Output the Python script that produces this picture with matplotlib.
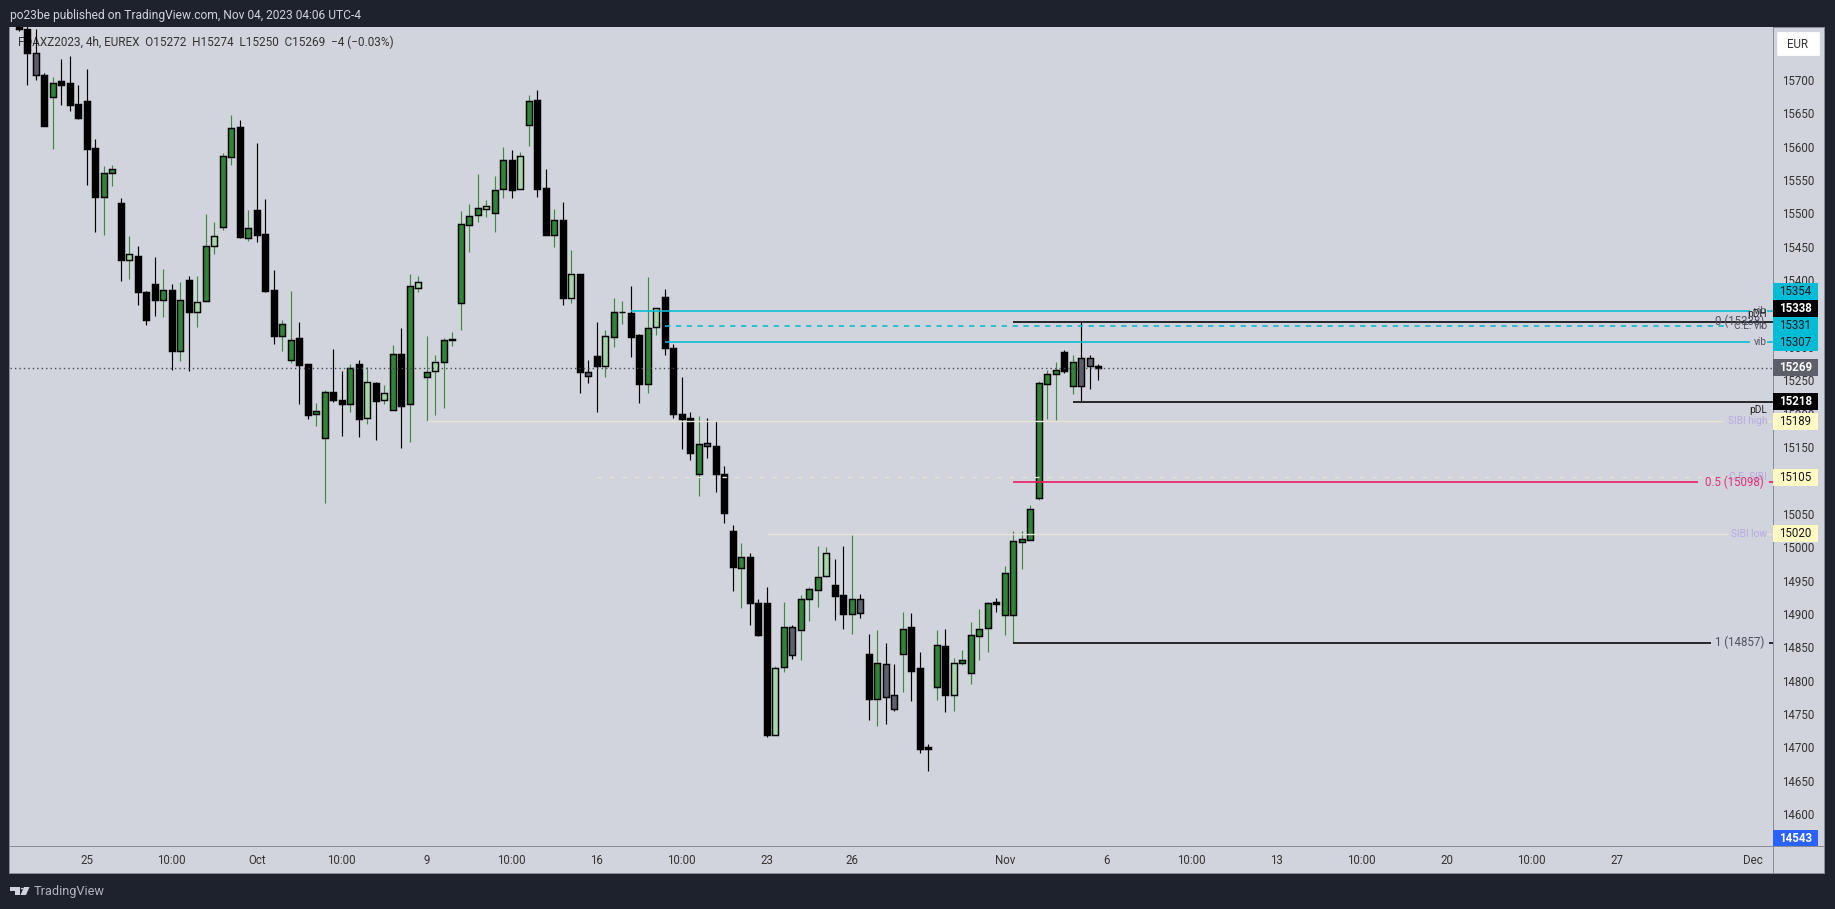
import matplotlib
matplotlib.use('Agg')
from matplotlib import pyplot as plt
from matplotlib.patches import Rectangle, FancyBboxPatch, Polygon, Circle
from matplotlib.transforms import blended_transform_factory

plt.rcParams['font.family'] = ['Roboto', 'DejaVu Sans']

# k black, g green, l light green, d grey
kinds = list('kkdkgkkkkkggkl' 'kkkgkgklgl' 'ggkgkkkggk' 'kggkkgkl' 'klgkgl' 'glgggg' 'glggkl' 'gkkgkl' 'kdklgg'
             'kkglkkkkgd' 'kkkgkkklgd' 'gggl' 'kkgd' 'kgddgkkk' 'gklgggg' 'kggggggg' 'kgdd')

highs = [15810, 15783, 15776, 15710, 15704, 15731, 15736, 15692, 15716, 15612, 15571, 15573, 15523, 15466, 15451,
         15384, 15435, 15417, 15394, 15397, 15407, 15406, 15499, 15487, 15591, 15648, 15640, 15505, 15605, 15521,
         15415, 15340, 15384, 15338, 15274, 15216, 15236, 15297, 15264, 15275, 15281, 15270, 15248, 15243, 15303,
         15328, 15409, 15406, 15317, 15288, 15313, 15322, 15504, 15514, 15559, 15520, 15556, 15600, 15595, 15592,
         15677, 15685, 15567, 15506, 15517, 15445, 15409, 15280, 15338, 15325, 15374, 15369, 15391, 15319, 15405,
         15358, 15387, 15304, 15255, 15203, 15197, 15194, 15189, 15122, 15033, 15006, 14991, 14922, 14940, 14822,
         14918, 14883, 14928, 14940, 15002, 15000, 14982, 15002, 15019, 14930, 14870, 14876, 14857, 14825, 14903,
         14901, 14843, 14705, 14876, 14877, 14834, 14846, 14888, 14907, 14918, 14924, 14972, 15024, 15024, 15063,
         15249, 15265, 15277, 15295, 15288, 15338, 15288, 15274]
lows = [15774, 15693, 15700, 15631, 15597, 15663, 15654, 15642, 15543, 15473, 15468, 15541, 15399, 15402, 15363,
        15333, 15346, 15345, 15266, 15279, 15264, 15330, 15369, 15439, 15475, 15573, 15464, 15459, 15457, 15383,
        15304, 15294, 15276, 15215, 15192, 15182, 15067, 15218, 15167, 15203, 15165, 15185, 15161, 15215, 15206,
        15149, 15158, 15382, 15189, 15198, 15209, 15301, 15325, 15443, 15488, 15495, 15473, 15523, 15523, 15537,
        15601, 15525, 15468, 15450, 15363, 15366, 15231, 15246, 15203, 15255, 15300, 15334, 15285, 15216, 15231,
        15318, 15288, 15194, 15147, 15131, 15077, 15134, 15083, 15036, 14935, 14909, 14883, 14867, 14715, 14719,
        14813, 14833, 14831, 14889, 14911, 14955, 14891, 14877, 14870, 14894, 14741, 14732, 14735, 14755, 14783,
        14770, 14692, 14665, 14771, 14753, 14755, 14824, 14795, 14831, 14843, 14903, 14868, 14856, 14967, 15011,
        15071, 15192, 15191, 15261, 15230, 15217, 15237, 15250]
body_top = [15800, 15777, 15741, 15707, 15696, 15698, 15695, 15664, 15668, 15598, 15560, 15566, 15515, 15439, 15436,
            15383, 15394, 15385, 15386, 15371, 15401, 15368, 15451, 15467, 15586, 15628, 15629, 15479, 15505, 15469,
            15386, 15335, 15311, 15313, 15274, 15204, 15232, 15232, 15220, 15268, 15275, 15247, 15246, 15231, 15290,
            15290, 15391, 15397, 15263, 15278, 15311, 15312, 15485, 15496, 15508, 15511, 15535, 15580, 15580, 15586,
            15669, 15670, 15538, 15490, 15490, 15409, 15409, 15263, 15286, 15316, 15353, 15353, 15351, 15318, 15329,
            15358, 15375, 15298, 15200, 15194, 15154, 15156, 15152, 15110, 15024, 14985, 14985, 14917, 14916, 14819,
            14880, 14880, 14922, 14937, 14956, 14991, 14944, 14928, 14923, 14923, 14840, 14826, 14825, 14778, 14878,
            14880, 14819, 14701, 14853, 14852, 14826, 14831, 14869, 14878, 14916, 14918, 14961, 15009, 15012, 15058,
            15246, 15260, 15265, 15293, 15277, 15283, 15283, 15272]
body_bot = [15776, 15741, 15707, 15631, 15674, 15693, 15663, 15643, 15597, 15525, 15525, 15560, 15431, 15431, 15383,
            15341, 15371, 15371, 15294, 15294, 15353, 15353, 15369, 15451, 15480, 15585, 15465, 15464, 15468, 15384,
            15317, 15317, 15281, 15273, 15198, 15199, 15164, 15221, 15215, 15214, 15192, 15193, 15219, 15220, 15206,
            15212, 15214, 15389, 15255, 15264, 15278, 15311, 15366, 15483, 15497, 15507, 15501, 15536, 15535, 15537,
            15632, 15537, 15468, 15468, 15374, 15374, 15262, 15257, 15271, 15272, 15315, 15353, 15315, 15245, 15245,
            15330, 15298, 15200, 15192, 15141, 15109, 15151, 15110, 15051, 14971, 14969, 14916, 14869, 14719, 14719,
            14820, 14839, 14876, 14922, 14936, 14957, 14927, 14900, 14900, 14902, 14773, 14773, 14776, 14758, 14840,
            14815, 14698, 14698, 14791, 14779, 14779, 14827, 14812, 14867, 14879, 14915, 14899, 14899, 15008, 15011,
            15074, 15245, 15260, 15264, 15242, 15241, 15272, 15269]

y_ticks = list(range(14600, 15701, 50))
x_tick_pos = [8, 18, 28, 38, 48, 58, 68, 78, 88, 98, 116, 128, 138, 148, 158, 168, 178, 188, 204]
x_tick_labels = ['25', '10:00', 'Oct', '10:00', '9', '10:00', '16', '10:00', '23', '26', 'Nov', '6', '10:00', '13',
                 '10:00', '20', '10:00', '27', 'Dec']

last_price = 15269
pinned_tag = 14543

tag_prices = [15354, 15338, 15331, 15307, 15269, 15218, 15189, 15105, 15020]
tag_centers = [15383, 15358, 15332, 15306.5, 15269, 15218, 15189, 15105, 15020]

level_prices = [15354, 15331, 15307, 15338, 15218, 15189, 15105, 15020, 15098, 14857]
level_starts = [72, 76, 76, 117, 124, 48, 68, 88, 117, 117]

W, H = 1835, 909
BG = '#1e222d'
PANE = '#d1d4dc'
EDGE = '#8a8d96'
CYAN = '#00bcd4'
CREAM = '#e6e4d6'
PINK = '#f0145f'
PURPLE = '#b7a9e2'
TXT = '#333333'
body_col = {'k': '#000000', 'g': '#2e8535', 'l': '#a5d6a7', 'd': '#5d606b'}
wick_col = {'k': '#000000', 'g': '#388e3c', 'l': '#388e3c', 'd': '#000000'}


def box(x0, y0, x1, y1):
    return [x0 / W, 1 - y1 / H, (x1 - x0) / W, (y1 - y0) / H]


def fig_rect(x0, y0, x1, y1, color, z=0):
    l, b, w, h = box(x0, y0, x1, y1)
    fig.add_artist(Rectangle((l, b), w, h, transform=fig.transFigure, fc=color, ec='none', zorder=z))


def idx(px):
    return (px - 18.8) / 8.5


fig = plt.figure(figsize=(W / 100, H / 100), dpi=100, facecolor=BG)
fig_rect(9, 27, 1825, 874, EDGE, -3)
fig_rect(10, 28, 1824, 873, PANE, -2)
fig_rect(10, 846, 1824, 847, EDGE, -1)
fig_rect(1773, 28, 1774, 873, EDGE, -1)

ax = fig.add_axes(box(10, 27, 1773, 846), facecolor=PANE)
ax.set_xlim(idx(10), idx(1773))
ax.set_ylim(14552.4, 15779.4)
for s in ax.spines.values():
    s.set_visible(False)

ax.yaxis.tick_right()
ax.set_yticks(y_ticks)
ax.set_yticklabels([str(v) for v in y_ticks], fontsize=8.3, color=TXT)
ax.tick_params(axis='y', length=0, pad=6.5)
ax.set_xticks(x_tick_pos)
ax.set_xticklabels(x_tick_labels, fontsize=8.3, color=TXT)
ax.tick_params(axis='x', length=0, pad=5.5)

# legend text sits under the candles in the reference
ax.text(idx(18), 15700 + (80 - 42) / 0.6675,
        'FDAXZ2023, 4h, EUREX  O15272  H15274  L15250  C15269  \u22124 (\u22120.03%)',
        fontsize=8.5, color=TXT, va='center', ha='left', zorder=1)

xs = list(range(len(highs)))
wick_colors = [wick_col[k] for k in kinds]
ax.vlines(xs, lows, highs, colors=wick_colors, lw=0.85, zorder=2)
heights = [t - b for t, b in zip(body_top, body_bot)]
ax.bar(xs, heights, bottom=body_bot, width=0.68, color=[body_col[k] for k in kinds], edgecolor='black',
       linewidth=1.05, zorder=3)

# drawn levels
ax.axhline(last_price, color='#4a4d58', lw=1, ls=(0, (1, 2.2)), zorder=4)

styles = [(CYAN, '-', 1750), (CYAN, (0, (3.3, 3.5)), 1727), (CYAN, '-', 1750), ('black', '-', 1773),
          ('black', '-', 1773), (CREAM, '-', 1723), (CREAM, (0, (3.2, 5.8)), 1725), (CREAM, '-', 1728),
          (PINK, '-', 1698), ('black', '-', 1711)]
resume = [1767, None, 1767, None, None, 1767, None, 1767, 1769, 1769]
for price, start, st, res in zip(level_prices, level_starts, styles, resume):
    col, ls, end = st
    lw = 1.15 if col != CREAM else 1.0
    ax.plot([start, idx(end)], [price, price], color=col, ls=ls, lw=lw, zorder=5, solid_capstyle='butt')
    if res:
        ax.plot([idx(res), idx(1773)], [price, price], color=col, lw=lw, zorder=5, solid_capstyle='butt')

small = 7.3
big = 8.3
ax.text(idx(1767), 15354, 'vib', fontsize=small, color='#50535e', ha='right', va='center', zorder=6)
ax.text(idx(1767), 15350, 'pDH', fontsize=small, color='#222222', ha='right', va='center', zorder=6)
ax.text(idx(1767), 15331, 'C.E. vib', fontsize=small, color='#50535e', ha='right', va='center', zorder=6)
ax.text(idx(1767), 15307, 'vib', fontsize=small, color='#50535e', ha='right', va='center', zorder=6)
ax.text(idx(1767), 15205, 'pDL', fontsize=small, color='#222222', ha='right', va='center', zorder=6)
ax.text(idx(1767), 15189, 'SIBI high', fontsize=small, color=PURPLE, ha='right', va='center', zorder=6)
ax.text(idx(1767), 15105, 'C.E. SIBI', fontsize=small, color=PURPLE, ha='right', va='center', zorder=6)
ax.text(idx(1767), 15020, 'SIBI low', fontsize=small, color=PURPLE, ha='right', va='center', zorder=6)
ax.text(idx(1764), 15338, '0 (15338)', fontsize=big, color='#50535e', ha='right', va='center', zorder=6)
ax.text(idx(1764), 15098, '0.5 (15098)', fontsize=big, color='#e0306f', ha='right', va='center', zorder=6)
ax.text(idx(1764), 14857, '1 (14857)', fontsize=big, color='#50535e', ha='right', va='center', zorder=6)

# price tags on the right scale
blend = blended_transform_factory(ax.transAxes, ax.transData)
tag_styles = [(CYAN, '#131722'), ('#000000', 'white'), (CYAN, '#131722'), (CYAN, '#131722'), ('#5d606b', 'white'),
              ('#000000', 'white'), ('#fff9c4', '#131722'), ('#fff9c4', '#131722'), ('#fff9c4', '#131722')]
tag_w = 45 / 1763
for price, center, st in zip(tag_prices, tag_centers, tag_styles):
    bold = st[1] == 'white'
    ax.add_patch(Rectangle((1.0, center - 12.7), tag_w, 25.4, transform=blend, fc=st[0], ec='none', clip_on=False,
                           zorder=8))
    ax.text(1.0 + tag_w / 2, center, str(price), transform=blend, fontsize=8.3, color=st[1], ha='center',
            va='center', zorder=9, clip_on=False, fontweight='bold' if bold else 'normal')

# tag below the visible range stays pinned to the pane bottom
ax.add_patch(Rectangle((1.0, 0), tag_w, 16 / 819, transform=ax.transAxes, fc='#2962ff', ec='none', clip_on=False,
                       zorder=8))
ax.text(1.0 + tag_w / 2, 8 / 819, str(pinned_tag), transform=ax.transAxes, fontsize=8.3, color='white', ha='center',
        va='center', zorder=9, clip_on=False, fontweight='bold')

# header, currency button, footer
fig.text(10 / W, 1 - 15 / H, 'po23be published on TradingView.com, Nov 04, 2023 04:06 UTC-4', fontsize=8.65,
         color='#d1d4dc', ha='left', va='center')
l, b, w, h = box(1779, 33, 1818, 55)
fig.add_artist(FancyBboxPatch((l, b), w, h, boxstyle='round,pad=0.001', transform=fig.transFigure, fc='white',
                              ec='none', zorder=3))
fig.text(1797.5 / W, 1 - 44.5 / H, 'EUR', fontsize=8.3, color=TXT, ha='center', va='center', zorder=4)

logo = [[(10, 887), (20, 887), (20, 895), (15, 895), (15, 890.5), (10, 890.5)],
        [(24, 887), (29.5, 887), (26, 895), (20.5, 895)]]
for pts in logo:
    fig.add_artist(Polygon([(x / W, 1 - y / H) for x, y in pts], transform=fig.transFigure, fc='#d1d4dc', ec='none'))
fig.add_artist(Circle((22.2 / W, 1 - 888.6 / H), 0.0008, transform=fig.transFigure, fc='#d1d4dc', ec='none'))
fig.text(34 / W, 1 - 892 / H, 'TradingView', fontsize=9.2, color='#b2b5be', ha='left', va='center')

fig.savefig('out.png', dpi=100, facecolor=BG)
